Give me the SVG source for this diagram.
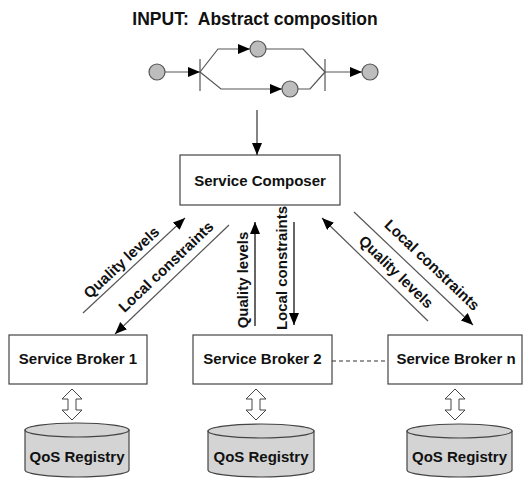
<svg xmlns="http://www.w3.org/2000/svg" width="525" height="479" viewBox="0 0 525 479">
<style>
text{font-family:"Liberation Sans",Arial,sans-serif;font-weight:bold;fill:#111}
.t{font-size:15px;text-anchor:middle}
.lb{font-size:15px;text-anchor:middle}
.box{fill:#fff;stroke:#444;stroke-width:1.2}
.ln{fill:none;stroke:#555;stroke-width:1.2}
.dot{fill:#bdbdbd;stroke:#555;stroke-width:1.2}
.cyl{fill:#d4d4d4;stroke:#444;stroke-width:1.2}
.dbl{fill:#fff;stroke:#444;stroke-width:1}
</style>
<defs>
<marker id="ah" markerUnits="userSpaceOnUse" markerWidth="13" markerHeight="11" refX="12" refY="5" orient="auto">
<path d="M0,0 L12,5 L0,10 z" fill="#000"/>
</marker>
</defs>

<g id="input">
<text x="255" y="25" style="font-size:17.5px;text-anchor:middle;white-space:pre" xml:space="preserve">INPUT:  Abstract composition</text>
<line class="ln" x1="200" y1="59" x2="200" y2="91"/>
<line class="ln" x1="325" y1="59" x2="325" y2="91"/>
<line class="ln" x1="165" y1="72" x2="200" y2="72" marker-end="url(#ah)"/>
<polyline class="ln" points="200,72 218,49 250,49" marker-end="url(#ah)"/>
<polyline class="ln" points="266,49 303,49 325,72"/>
<polyline class="ln" points="200,72 221,89 282,89" marker-end="url(#ah)"/>
<polyline class="ln" points="298,89 310,89 325,72"/>
<line class="ln" x1="325" y1="72" x2="362" y2="72" marker-end="url(#ah)"/>
<circle class="dot" cx="157" cy="72" r="8"/>
<circle class="dot" cx="258" cy="49" r="8"/>
<circle class="dot" cx="290" cy="89" r="8"/>
<circle class="dot" cx="370" cy="72" r="8"/>
</g>

<g id="composer">
<rect class="box" x="180" y="155" width="160" height="50"/>
<text class="t" x="260" y="186">Service Composer</text>
</g>

<g id="broker1">
<rect class="box" x="9" y="335" width="138" height="49"/>
<text class="t" x="78" y="364">Service Broker 1</text>
</g>
<g id="broker2">
<rect class="box" x="193" y="335" width="139" height="49"/>
<text class="t" x="262.5" y="364">Service Broker 2</text>
</g>
<g id="brokern">
<rect class="box" x="388" y="335" width="134" height="49"/>
<text class="t" x="456" y="364">Service Broker n</text>
</g>

<g id="registry1">
<path class="cyl" d="M25,430 L25,470 A52,7 0 0 0 129,470 L129,430 Z"/>
<ellipse class="cyl" cx="77" cy="430" rx="52" ry="7"/>
<text class="t" x="77" y="462">QoS Registry</text>
</g>
<g id="registry2">
<path class="cyl" d="M208,431 L208,470 A53,7 0 0 0 314,470 L314,431 Z"/>
<ellipse class="cyl" cx="261" cy="431" rx="53" ry="7"/>
<text class="t" x="261" y="462">QoS Registry</text>
</g>
<g id="registryn">
<path class="cyl" d="M407,431 L407,470 A52.5,7 0 0 0 512,470 L512,431 Z"/>
<ellipse class="cyl" cx="459.5" cy="431" rx="52.5" ry="7"/>
<text class="t" x="459.5" y="462">QoS Registry</text>
</g>

<g id="connectors">
<line class="ln" x1="257" y1="110" x2="257" y2="155" marker-end="url(#ah)" style="stroke:#333"/>
<line class="ln" x1="83" y1="313" x2="185" y2="218" marker-end="url(#ah)"/>
<line class="ln" x1="229" y1="225" x2="115" y2="334" marker-end="url(#ah)"/>
<line class="ln" x1="255" y1="326" x2="255" y2="222" marker-end="url(#ah)" style="stroke:#333;stroke-width:1.5"/>
<line class="ln" x1="294" y1="222" x2="294" y2="325" marker-end="url(#ah)" style="stroke:#333;stroke-width:1.5"/>
<line class="ln" x1="428" y1="321" x2="322" y2="218" marker-end="url(#ah)"/>
<line class="ln" x1="354" y1="212" x2="473" y2="325" marker-end="url(#ah)"/>
<line class="ln" x1="332" y1="361" x2="388" y2="361" style="stroke-dasharray:4,3;stroke:#333"/>
<path class="dbl" d="M72,389 L82,399 L76,399 L76,410 L82,410 L72,420 L62,410 L68,410 L68,399 L62,399 Z"/>
<path class="dbl" d="M256,389 L266,399 L260,399 L260,410 L266,410 L256,420 L246,410 L252,410 L252,399 L246,399 Z"/>
<path class="dbl" d="M455,389 L465,399 L459,399 L459,410 L465,410 L455,420 L445,410 L451,410 L451,399 L445,399 Z"/>
<text class="lb" transform="translate(121.5,262.5) rotate(-43)" dy="5">Quality levels</text>
<text class="lb" transform="translate(166,267) rotate(-43.5)" dy="5">Local constraints</text>
<text class="lb" transform="translate(243,280) rotate(-90)" dy="5">Quality levels</text>
<text class="lb" transform="translate(282,268) rotate(-90)" dy="5">Local constraints</text>
<text class="lb" transform="translate(432,265) rotate(43.5)" dy="5">Local constraints</text>
<text class="lb" transform="translate(396,272) rotate(44)" dy="5">Quality levels</text>
</g>
</svg>
